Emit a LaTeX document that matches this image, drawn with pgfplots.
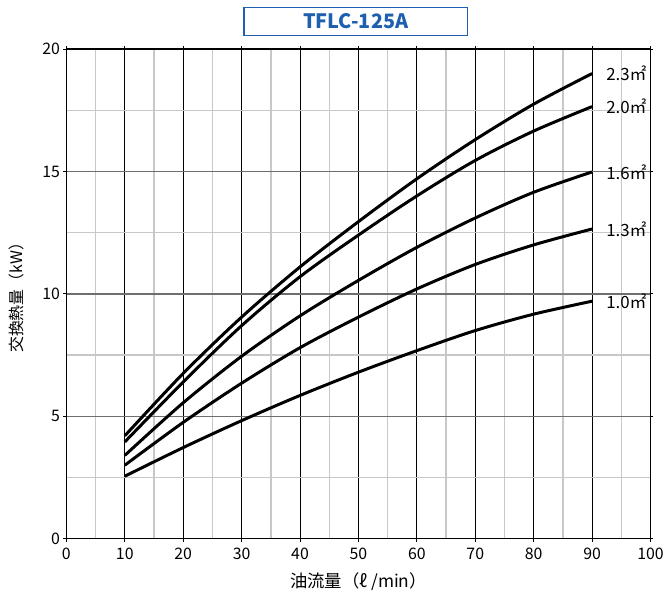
\documentclass[border=0pt]{standalone}
\usepackage{fontspec}
\setmainfont{Noto Sans CJK JP}
\usepackage{pgfplots}
\pgfplotsset{compat=1.18}
\definecolor{titleblue}{RGB}{30,95,175}
\definecolor{gridlight}{RGB}{200,200,200}
\definecolor{griddark}{RGB}{110,110,110}
\begin{document}
\begin{tikzpicture}
\begin{axis}[
  at={(0,0)}, anchor=south west,
  scale only axis, width=587bp, height=492bp,
  xmin=0, xmax=100, ymin=0, ymax=20,
  xtick={0,10,...,100}, minor xtick={5,15,...,95},
  ytick={0,5,...,20}, minor ytick={2.5,7.5,12.5,17.5},
  grid=both,
  major x grid style={black, line width=0.8bp},
  minor x grid style={gridlight, line width=1.4bp},
  major y grid style={griddark, line width=1.4bp},
  minor y grid style={gridlight, line width=1.4bp},
  axis line style={black, line width=1.2bp},
  tick align=outside, major tick length=3bp, minor tick length=0pt,
  tick style={black, line width=1bp},
  /pgf/number format/assume math mode=true,
  tick label style={font=\fontsize{16}{18}\selectfont},
  xticklabel style={yshift=-3bp},
  xlabel={油流量（ℓ\ /min）},
  ylabel={交換熱量（kW）},
  xlabel style={font=\fontsize{17.5}{20}\selectfont, yshift=-6bp},
  ylabel style={font=\fontsize{16}{18}\selectfont, yshift=12bp},
  clip=false,
]
\addplot[black, line width=3bp, smooth] coordinates {(10,4.2) (20,6.75) (30,9.05) (40,11.1) (50,12.95) (60,14.7) (70,16.3) (80,17.75) (90,19.0)};
\addplot[black, line width=3bp, smooth] coordinates {(10,3.95) (20,6.4) (30,8.7) (40,10.7) (50,12.4) (60,14.0) (70,15.45) (80,16.65) (90,17.65)};
\addplot[black, line width=3bp, smooth] coordinates {(10,3.4) (20,5.55) (30,7.45) (40,9.1) (50,10.55) (60,11.9) (70,13.1) (80,14.15) (90,14.98)};
\addplot[black, line width=3bp, smooth] coordinates {(10,3.0) (20,4.75) (30,6.35) (40,7.8) (50,9.05) (60,10.2) (70,11.2) (80,12.0) (90,12.65)};
\addplot[black, line width=3bp, smooth] coordinates {(10,2.55) (20,3.72) (30,4.82) (40,5.85) (50,6.8) (60,7.68) (70,8.5) (80,9.17) (90,9.7)};
\begin{scope}[every node/.style={anchor=west, inner sep=0pt, font=\fontsize{17}{19}\selectfont}]
\node at (axis cs:92.4,19.0) {2.3㎡};
\node at (axis cs:92.4,17.65) {2.0㎡};
\node at (axis cs:92.4,14.98) {1.6㎡};
\node at (axis cs:92.4,12.65) {1.3㎡};
\node at (axis cs:92.4,9.7) {1.0㎡};
\end{scope}
\end{axis}
\draw[titleblue, line width=1.5bp] (178.3bp,505.7bp) rectangle (403.3bp,533.7bp);
\node[titleblue, font=\fontsize{20}{22}\selectfont\bfseries] at (290.8bp,519.7bp) {TFLC-125A};
\path (-66.7bp,-54.3bp) rectangle (600.3bp,541.3bp);
\end{tikzpicture}
\end{document}
